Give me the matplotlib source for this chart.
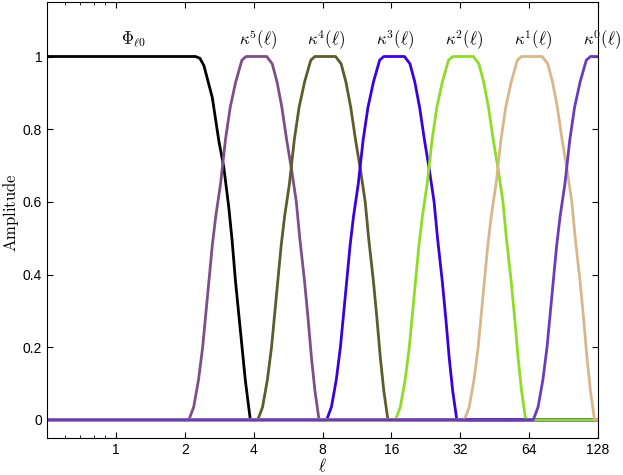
import matplotlib
matplotlib.use("Agg")
import matplotlib.pyplot as plt
from matplotlib.ticker import FixedLocator, NullFormatter

plt.rcParams["mathtext.fontset"] = "cm"
plt.rcParams["font.family"] = ["Liberation Sans", "DejaVu Sans"]

# Amplitud compartida por todas las ventanas kappa
kappa_amp = [0, 0, 0.035, 0.11, 0.20, 0.34, 0.48, 0.56, 0.65, 0.77, 0.86, 0.93, 0.99, 1.0,
             1.0, 0.98, 0.93, 0.86, 0.77, 0.69, 0.60, 0.50, 0.38, 0.28, 0.17, 0.08, 0, 0]

# Valores de ell para cada ventana
ell_k5 = [0.5, 2.085, 2.188, 2.297, 2.395, 2.514, 2.639, 2.732, 2.868, 3.011, 3.160, 3.340, 3.555, 3.706,
          4.563, 4.823, 5.063, 5.315, 5.579, 5.856, 6.147, 6.364, 6.681, 6.916, 7.161, 7.413, 7.727, 128]
ell_k4 = [0.5, 4.17, 4.376, 4.594, 4.79, 5.028, 5.278, 5.464, 5.736, 6.022, 6.32, 6.68, 7.11, 7.412,
          9.126, 9.646, 10.126, 10.63, 11.158, 11.712, 12.294, 12.728, 13.362, 13.832, 14.322, 14.826, 15.454, 128]
ell_k3 = [0.5, 8.34, 8.75, 9.19, 9.58, 10.06, 10.56, 10.93, 11.47, 12.04, 12.64, 13.36, 14.22, 14.82,
          18.25, 19.29, 20.25, 21.26, 22.32, 23.42, 24.59, 25.46, 26.72, 27.66, 28.64, 29.65, 30.91, 128]
ell_k2 = [0.5, 16.68, 17.50, 18.38, 19.16, 20.11, 21.11, 21.86, 22.94, 24.09, 25.28, 26.72, 28.44, 29.65,
          36.50, 38.58, 40.50, 42.52, 44.63, 46.85, 49.18, 50.91, 53.45, 55.33, 57.29, 59.30, 61.82, 128]
ell_k1 = [0.5, 33.36, 35.01, 36.75, 38.32, 40.22, 42.22, 43.71, 45.89, 48.18, 50.56, 53.44, 56.88, 59.30,
          73.01, 77.17, 81.01, 85.04, 89.26, 93.70, 98.35, 101.8, 106.9, 110.7, 114.6, 118.6, 123.6, 128]
ell_k0 = [0.5, 66.72, 70.02, 73.50, 76.64, 80.45, 84.45, 87.42, 91.78, 96.35, 101.1, 106.9, 113.8, 118.6, 128]
amp_k0 = [0, 0, 0.035, 0.11, 0.20, 0.34, 0.48, 0.56, 0.65, 0.77, 0.86, 0.93, 0.99, 1.0, 1.0]

# Función de escala Phi
ell_phi = [0.5, 2.23, 2.33, 2.425, 2.639, 2.818, 2.963, 3.115, 3.222, 3.331, 3.501, 3.681, 3.869, 128]
amp_phi = [1.0, 1.0, 0.995, 0.975, 0.887, 0.768, 0.695, 0.585, 0.493, 0.383, 0.246, 0.108, 0.0, 0.0]

curvas = [
    (ell_phi, amp_phi, "black"),
    (ell_k5, kappa_amp, "#7e4e88"),
    (ell_k4, kappa_amp, "#5c5c2c"),
    (ell_k3, kappa_amp, "#3a00e0"),
    (ell_k2, kappa_amp, "#8edc28"),
    (ell_k1, kappa_amp, "#d8b88a"),
    (ell_k0, amp_k0, "#6a3cbb"),
]

etiquetas = [r"$\Phi_{\ell 0}$", r"$\kappa^5(\ell)$", r"$\kappa^4(\ell)$", r"$\kappa^3(\ell)$",
             r"$\kappa^2(\ell)$", r"$\kappa^1(\ell)$", r"$\kappa^0(\ell)$"]
pos_etiquetas = [1.2, 4.2, 8.3, 16.6, 33.2, 66.4, 133]

x_ticks = [1, 2, 4, 8, 16, 32, 64, 128]
y_ticks = [0, 0.2, 0.4, 0.6, 0.8, 1]

fig = plt.figure(figsize=(6.23, 4.75), dpi=100)
ax = fig.add_axes([47 / 623, 37 / 475, 551 / 623, 436 / 475])

for x, y, c in curvas:
    ax.plot(x, y, color=c, linewidth=2.0)

for txt, xp in zip(etiquetas, pos_etiquetas):
    ax.text(xp, 1.045, txt, ha="center", va="center", fontsize=12, clip_on=False)

ax.set_xscale("log", base=2)
ax.set_xlim(0.5, 128)
ax.set_ylim(-0.05, 1.15)
ax.xaxis.set_major_locator(FixedLocator(x_ticks))
ax.set_xticklabels([str(t) for t in x_ticks])
ax.xaxis.set_minor_locator(FixedLocator([0.6, 0.7, 0.8, 0.9]))
ax.xaxis.set_minor_formatter(NullFormatter())
ax.set_yticks(y_ticks)
ax.set_yticklabels(["0", "0.2", "0.4", "0.6", "0.8", "1"])
ax.tick_params(which="both", direction="in", top=True, right=True, labelsize=10)
ax.tick_params(which="major", length=4.5)
ax.tick_params(which="minor", length=2.5)

ax.set_xlabel(r"$\ell$", fontsize=12)
ax.xaxis.set_label_coords(0.5, -0.042)
ax.set_ylabel(r"$\mathrm{Amplitude}$", fontsize=12)
ax.yaxis.set_label_coords(-0.066, 0.518)
ax.yaxis.label.set_va("center")

fig.savefig("out.png", dpi=100)
